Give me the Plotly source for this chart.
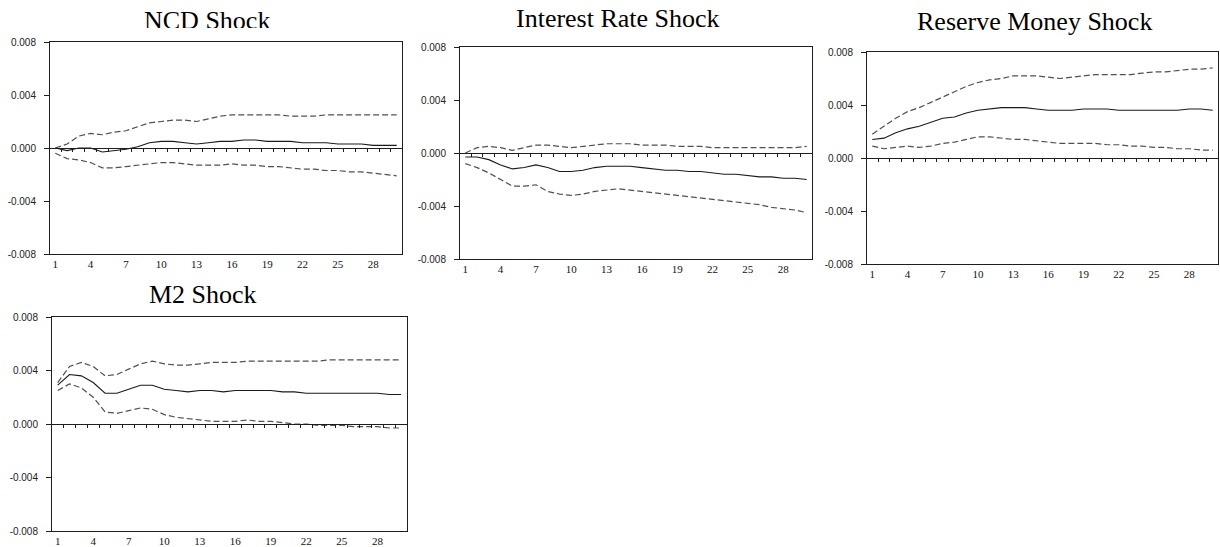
import plotly.graph_objects as go

# Impulse-response periods
periods = list(range(1, 31))

# NCD shock: response and confidence bands
ncd_resp = [0.0000, -0.0002, 0.0000, 0.0000, -0.0003, -0.0002, -0.0001, 0.0001, 0.0004, 0.0005,
            0.0005, 0.0004, 0.0003, 0.0004, 0.0005, 0.0005, 0.0006, 0.0006, 0.0005, 0.0005,
            0.0005, 0.0004, 0.0004, 0.0004, 0.0003, 0.0003, 0.0003, 0.0002, 0.0002, 0.0002]
ncd_upper = [0.0000, 0.0003, 0.0009, 0.0011, 0.0010, 0.0012, 0.0013, 0.0016, 0.0019, 0.0020,
             0.0021, 0.0021, 0.0020, 0.0022, 0.0024, 0.0025, 0.0025, 0.0025, 0.0025, 0.0025,
             0.0024, 0.0024, 0.0024, 0.0025, 0.0025, 0.0025, 0.0025, 0.0025, 0.0025, 0.0025]
ncd_lower = [-0.0004, -0.0008, -0.0009, -0.0011, -0.0015, -0.0015, -0.0014, -0.0013, -0.0012, -0.0011,
             -0.0011, -0.0012, -0.0013, -0.0013, -0.0013, -0.0012, -0.0013, -0.0013, -0.0014, -0.0014,
             -0.0015, -0.0016, -0.0016, -0.0017, -0.0017, -0.0018, -0.0018, -0.0019, -0.0020, -0.0021]

# Interest rate shock
ir_resp = [-0.0003, -0.0003, -0.0005, -0.0009, -0.0012, -0.0011, -0.0009, -0.0011, -0.0014, -0.0014,
           -0.0013, -0.0011, -0.0010, -0.0010, -0.0010, -0.0011, -0.0012, -0.0013, -0.0013, -0.0014,
           -0.0014, -0.0015, -0.0016, -0.0016, -0.0017, -0.0018, -0.0018, -0.0019, -0.0019, -0.0020]
ir_upper = [0.0000, 0.0004, 0.0005, 0.0004, 0.0002, 0.0004, 0.0006, 0.0006, 0.0005, 0.0004,
            0.0005, 0.0006, 0.0007, 0.0007, 0.0007, 0.0006, 0.0006, 0.0006, 0.0005, 0.0005,
            0.0005, 0.0004, 0.0004, 0.0004, 0.0004, 0.0004, 0.0004, 0.0004, 0.0004, 0.0005]
ir_lower = [-0.0008, -0.0011, -0.0015, -0.0020, -0.0025, -0.0025, -0.0024, -0.0029, -0.0031, -0.0032,
            -0.0031, -0.0029, -0.0028, -0.0027, -0.0028, -0.0029, -0.0030, -0.0031, -0.0032, -0.0033,
            -0.0034, -0.0035, -0.0036, -0.0037, -0.0038, -0.0039, -0.0041, -0.0042, -0.0043, -0.0045]

# Reserve money shock
rm_resp = [0.0014, 0.0015, 0.0019, 0.0022, 0.0024, 0.0027, 0.0030, 0.0031, 0.0034, 0.0036,
           0.0037, 0.0038, 0.0038, 0.0038, 0.0037, 0.0036, 0.0036, 0.0036, 0.0037, 0.0037,
           0.0037, 0.0036, 0.0036, 0.0036, 0.0036, 0.0036, 0.0036, 0.0037, 0.0037, 0.0036]
rm_upper = [0.0018, 0.0024, 0.0030, 0.0035, 0.0038, 0.0042, 0.0046, 0.0050, 0.0054, 0.0057,
            0.0059, 0.0060, 0.0062, 0.0062, 0.0062, 0.0061, 0.0060, 0.0061, 0.0062, 0.0063,
            0.0063, 0.0063, 0.0063, 0.0064, 0.0065, 0.0065, 0.0066, 0.0067, 0.0067, 0.0068]
rm_lower = [0.0009, 0.0007, 0.0008, 0.0009, 0.0008, 0.0009, 0.0011, 0.0012, 0.0014, 0.0016,
            0.0016, 0.0015, 0.0014, 0.0014, 0.0013, 0.0012, 0.0011, 0.0011, 0.0011, 0.0011,
            0.0010, 0.0010, 0.0009, 0.0009, 0.0008, 0.0008, 0.0007, 0.0007, 0.0006, 0.0006]

# M2 shock
m2_resp = [0.0029, 0.0037, 0.0036, 0.0031, 0.0023, 0.0023, 0.0026, 0.0029, 0.0029, 0.0026,
           0.0025, 0.0024, 0.0025, 0.0025, 0.0024, 0.0025, 0.0025, 0.0025, 0.0025, 0.0024,
           0.0024, 0.0023, 0.0023, 0.0023, 0.0023, 0.0023, 0.0023, 0.0023, 0.0022, 0.0022]
m2_upper = [0.0031, 0.0043, 0.0046, 0.0043, 0.0036, 0.0037, 0.0041, 0.0045, 0.0047, 0.0045,
            0.0044, 0.0044, 0.0045, 0.0046, 0.0046, 0.0046, 0.0047, 0.0047, 0.0047, 0.0047,
            0.0047, 0.0047, 0.0047, 0.0048, 0.0048, 0.0048, 0.0048, 0.0048, 0.0048, 0.0048]
m2_lower = [0.0025, 0.0030, 0.0027, 0.0020, 0.0009, 0.0008, 0.0010, 0.0012, 0.0011, 0.0007,
            0.0005, 0.0004, 0.0003, 0.0002, 0.0002, 0.0002, 0.0003, 0.0002, 0.0002, 0.0001,
            0.0000, 0.0000, -0.0001, -0.0001, -0.0001, -0.0002, -0.0002, -0.0002, -0.0003, -0.0003]

titles = ["NCD Shock", "Interest Rate Shock", "Reserve Money Shock", "M2 Shock"]

x_tickvals = [1, 4, 7, 10, 13, 16, 19, 22, 25, 28]
x_ticktext = ["1", "4", "7", "10", "13", "16", "19", "22", "25", "28"]
y_tickvals = [-0.008, -0.004, 0.0, 0.004, 0.008]
y_ticktext = ["-0.008", "-0.004", "0.000", "0.004", "0.008"]
period_bounds = [p + 0.5 for p in periods[:-1]]

W, H = 1220, 547

# Panel boxes in pixels: (left, right, top, bottom), x-range, title centre (x, y)
boxes = [
    dict(px=(50, 402), py=(42, 254), xr=(0.55, 30.45), tpos=(207, 20.5)),
    dict(px=(460, 812), py=(47, 259), xr=(0.55, 30.45), tpos=(618, 18.5)),
    dict(px=(867, 1218), py=(52, 264), xr=(0.55, 30.45), tpos=(1034, 21)),
    dict(px=(52, 407), py=(317, 531), xr=(0.52, 30.5), tpos=(203, 294)),
]
series = [
    (ncd_resp, ncd_upper, ncd_lower),
    (ir_resp, ir_upper, ir_lower),
    (rm_resp, rm_upper, rm_lower),
    (m2_resp, m2_upper, m2_lower),
]

AX = "#1e1e1e"
fig = go.Figure()
layout = dict(
    width=W, height=H, margin=dict(l=0, r=0, t=0, b=0, pad=0, autoexpand=False),
    paper_bgcolor="white", plot_bgcolor="white", showlegend=False,
    annotations=[],
)

for i, (box, (resp, up, lo), title) in enumerate(zip(boxes, series, titles), start=1):
    xd = [box["px"][0] / W, box["px"][1] / W]
    yd = [1 - box["py"][1] / H, 1 - box["py"][0] / H]
    zero_pos = (yd[0] + yd[1]) / 2
    xa, ya, xo = f"x{i}", f"y{i}", f"x{i + 4}"

    for band in (up, lo):
        fig.add_trace(go.Scatter(
            x=periods, y=band, mode="lines", xaxis=xa, yaxis=ya,
            line=dict(color="#505050", width=1.2, dash="6px,3px"),
            hoverinfo="skip"))
    fig.add_trace(go.Scatter(
        x=periods, y=resp, mode="lines", xaxis=xa, yaxis=ya,
        line=dict(color="#1a1a1a", width=1.1), hoverinfo="skip"))
    # carrier trace for the zero-line axis
    fig.add_trace(go.Scatter(
        x=periods, y=resp, mode="lines", xaxis=xo, yaxis=ya,
        line=dict(width=0), opacity=0, hoverinfo="skip"))

    layout[f"xaxis{i}"] = dict(
        domain=xd, range=list(box["xr"]), anchor=ya, automargin=False,
        showline=True, mirror=True, linecolor=AX, linewidth=1,
        ticks="", tickvals=x_tickvals, ticktext=x_ticktext,
        tickfont=dict(family="Liberation Serif", size=11, color="#111"),
        showgrid=False, zeroline=False, fixedrange=True)
    layout[f"yaxis{i}"] = dict(
        domain=yd, range=[-0.008, 0.008], anchor=xa, automargin=False,
        showline=True, mirror=True, linecolor=AX, linewidth=1,
        ticks="outside", ticklen=5, tickcolor=AX, tickwidth=1,
        tickvals=y_tickvals, ticktext=y_ticktext, ticklabelstandoff=6,
        tickfont=dict(family="Liberation Sans", size=10, color="#222"),
        showgrid=False, zeroline=False, fixedrange=True)
    # horizontal zero line with period-boundary ticks
    layout[f"xaxis{i + 4}"] = dict(
        domain=xd, range=list(box["xr"]), overlaying=xa, anchor="free",
        position=zero_pos, side="bottom", automargin=False,
        showline=True, linecolor=AX, linewidth=1,
        ticks="outside", ticklen=3, tickwidth=1, tickcolor=AX,
        tickvals=period_bounds, showticklabels=False,
        showgrid=False, zeroline=False, fixedrange=True)

    layout["annotations"].append(dict(
        text=title, x=box["tpos"][0] / W, y=1 - box["tpos"][1] / H,
        xref="paper", yref="paper", xanchor="center", yanchor="middle",
        showarrow=False,
        font=dict(family="Liberation Serif", size=26, color="#000")))

# the first heading sits tight against its panel and loses its lower edge
layout["annotations"].append(dict(
    text="\u00a0", x=207 / W, y=1 - 28.5 / H, xref="paper", yref="paper",
    xanchor="center", yanchor="top", showarrow=False,
    width=150, height=12, bgcolor="white", borderpad=0, borderwidth=0,
    font=dict(size=6)))

fig.update_layout(**layout)
fig.write_html("out.html")
